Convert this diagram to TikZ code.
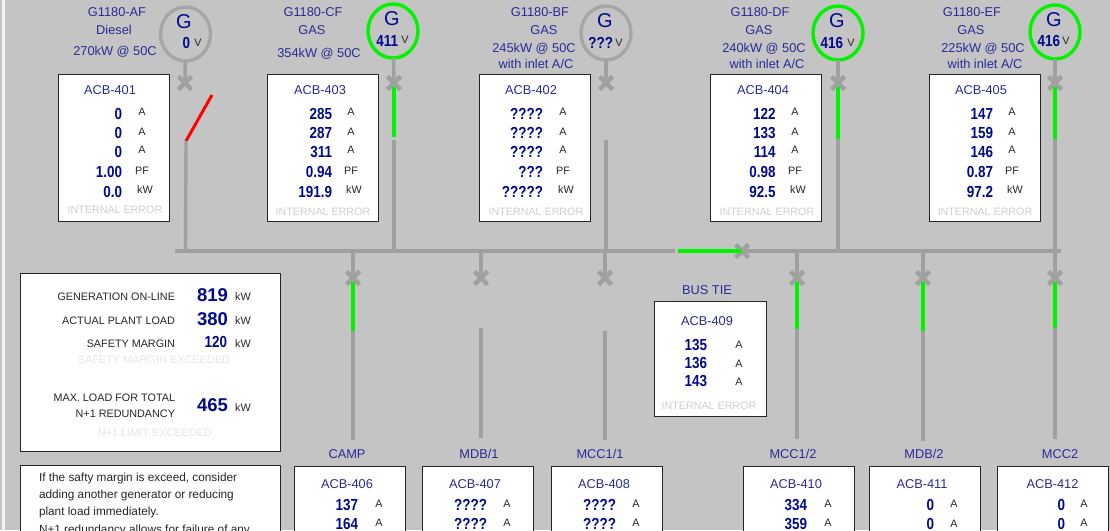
\documentclass[tikz,border=0pt]{standalone}
\usepackage{fontspec}
\setmainfont{Liberation Sans}
\newfontfamily\valfont[FakeStretch=0.84]{Liberation Sans Bold}
\usetikzlibrary{shapes.misc, shapes.geometric}
\definecolor{panelgray}{HTML}{C4C4C4}
\definecolor{linegray}{HTML}{A0A0A0}
\definecolor{ringgray}{HTML}{A6A6A6}
\definecolor{livegreen}{HTML}{00F400}
\definecolor{titleblue}{HTML}{2A2A96}
\definecolor{valblue}{HTML}{000A8C}
\definecolor{errgray}{HTML}{CFCFCF}
\definecolor{dimgray}{HTML}{E6E6E6}
\tikzset{
    every node/.style={inner sep=0pt, outer sep=0pt},
    gen/.style={ellipse, draw=ringgray, line width=3.4pt, minimum width=50, minimum height=54},
    genon/.style={gen, draw=livegreen},
    breaker/.style={cross out, draw=linegray, line width=4.4pt, minimum size=13},
    box/.style={rectangle, draw=black!85, fill=white, line width=0.9pt},
    acb/.style={box, minimum width=111, minimum height=147},
    feed/.style={box, minimum width=111, minimum height=134},
    title/.style={text=titleblue, font=\fontsize{12.8}{14}\selectfont},
    val/.style={anchor=east, text=valblue, font=\valfont\fontsize{16}{18}\selectfont},
    big/.style={anchor=east, text=valblue, font=\bfseries\fontsize{18.5}{22}\selectfont},
    unit/.style={text=black!85, font=\fontsize{10.8}{12}\selectfont},
    err/.style={text=errgray, font=\fontsize{10.7}{12}\selectfont},
    dim/.style={text=dimgray, font=\fontsize{10.9}{12}\selectfont},
    note/.style={anchor=west, text=black!85, font=\fontsize{11.8}{13}\selectfont},
    loadlabel/.style={anchor=east, text=black!85, font=\fontsize{10.8}{12}\selectfont},
    gletter/.style={text=valblue, font=\fontsize{20}{23}\selectfont},
    volt/.style={anchor=east, text=valblue, font=\valfont\fontsize{16}{18}\selectfont},
    wire/.style={draw=linegray, line width=3.4pt},
    live/.style={draw=livegreen, line width=3.8pt},
    tripped/.style={draw=red, line width=3pt}
}
\begin{document}
\begin{tikzpicture}[x=1pt, y=-1pt]
        \useasboundingbox (0,0) rectangle (1110,530);
        \clip (0,0) rectangle (1110,530);
        \fill[panelgray] (0,0) rectangle (1110,530);
        \fill[white!80!panelgray] (2,0) rectangle (5,530);

        % Generators
        \node[gen] (g401) at (185.5,34) {};
        \node[genon] (g403) at (393,31) {};
        \node[gen] (g402) at (606,33) {};
        \node[genon] (g404) at (838,33) {};
        \node[genon] (g405) at (1055,32) {};
        \node[gletter] (l401) at (184,22) {G};
        \node[gletter] (l403) at (392,19) {G};
        \node[gletter] (l402) at (605,21) {G};
        \node[gletter] (l404) at (837,21) {G};
        \node[gletter] (l405) at (1054,20) {G};
        \node[volt] (n401) at (190,43) {0};
        \node[volt] (n403) at (398,41) {411};
        \node[volt] (n402) at (613,43) {???};
        \node[volt] (n404) at (843,43) {416};
        \node[volt] (n405) at (1060,41) {416};
        \node[unit] (m401) at (198,43) {V};
        \node[unit] (m403) at (405,40) {V};
        \node[unit] (m402) at (619,43) {V};
        \node[unit] (m404) at (851,43) {V};
        \node[unit] (m405) at (1066,41) {V};

        % Generator headings
        \node[title] (h401a) at (117,12) {G1180-AF};
        \node[title] (h401b) at (114,30) {Diesel};
        \node[title] (h401c) at (115,52) {270kW @ 50C};
        \node[title] (h403a) at (313,12) {G1180-CF};
        \node[title] (h403b) at (312,30) {GAS};
        \node[title] (h403c) at (319,54) {354kW @ 50C};
        \node[title] (h402a) at (540,12) {G1180-BF};
        \node[title] (h402b) at (544,30) {GAS};
        \node[title] (h402c) at (534,49) {245kW @ 50C};
        \node[title] (h402d) at (536,64) {with inlet A/C};
        \node[title] (h404a) at (760,12) {G1180-DF};
        \node[title] (h404b) at (759,30) {GAS};
        \node[title] (h404c) at (764,49) {240kW @ 50C};
        \node[title] (h404d) at (767,64) {with inlet A/C};
        \node[title] (h405a) at (972,12) {G1180-EF};
        \node[title] (h405b) at (971,30) {GAS};
        \node[title] (h405c) at (983,49) {225kW @ 50C};
        \node[title] (h405d) at (985,64) {with inlet A/C};

        % Generator breaker boxes
        \node[acb] (b401) at (113.5,147.5) {};
        \node[acb] (b403) at (323,147.5) {};
        \node[acb] (b402) at (534.5,147.5) {};
        \node[acb] (b404) at (766,147.5) {};
        \node[acb] (b405) at (984.5,147.5) {};
        \node[title] (t401) at (110,90) {ACB-401};
        \node[title] (t403) at (320,90) {ACB-403};
        \node[title] (t402) at (531,90) {ACB-402};
        \node[title] (t404) at (763,90) {ACB-404};
        \node[title] (t405) at (981,90) {ACB-405};

        \node[val] (v401a) at (122,114) {0};
        \node[val] (v401b) at (122,133) {0};
        \node[val] (v401c) at (122,152) {0};
        \node[val] (v401d) at (122,172) {1.00};
        \node[val] (v401e) at (122,192) {0.0};
        \node[unit] (u401a) at (142,112) {A};
        \node[unit] (u401b) at (142,132) {A};
        \node[unit] (u401c) at (142,150) {A};
        \node[unit] (u401d) at (142,171) {PF};
        \node[unit] (u401e) at (145,190) {kW};
        \node[err] (e401) at (115,210) {INTERNAL ERROR};

        \node[val] (v403a) at (332,114) {285};
        \node[val] (v403b) at (332,133) {287};
        \node[val] (v403c) at (332,152) {311};
        \node[val] (v403d) at (332,172) {0.94};
        \node[val] (v403e) at (332,192) {191.9};
        \node[unit] (u403a) at (351,112) {A};
        \node[unit] (u403b) at (351,132) {A};
        \node[unit] (u403c) at (351,150) {A};
        \node[unit] (u403d) at (351,171) {PF};
        \node[unit] (u403e) at (354,190) {kW};
        \node[err] (e403) at (323,212) {INTERNAL ERROR};

        \node[val] (v402a) at (543,114) {????};
        \node[val] (v402b) at (543,133) {????};
        \node[val] (v402c) at (543,152) {????};
        \node[val] (v402d) at (543,172) {???};
        \node[val] (v402e) at (543,192) {?????};
        \node[unit] (u402a) at (563,112) {A};
        \node[unit] (u402b) at (563,132) {A};
        \node[unit] (u402c) at (563,150) {A};
        \node[unit] (u402d) at (563,171) {PF};
        \node[unit] (u402e) at (566,190) {kW};
        \node[err] (e402) at (536,212) {INTERNAL ERROR};

        \node[val] (v404a) at (775.5,114) {122};
        \node[val] (v404b) at (775.5,133) {133};
        \node[val] (v404c) at (775.5,152) {114};
        \node[val] (v404d) at (775.5,172) {0.98};
        \node[val] (v404e) at (775.5,192) {92.5};
        \node[unit] (u404a) at (795,112) {A};
        \node[unit] (u404b) at (795,132) {A};
        \node[unit] (u404c) at (795,150) {A};
        \node[unit] (u404d) at (795,171) {PF};
        \node[unit] (u404e) at (798,190) {kW};
        \node[err] (e404) at (767,212) {INTERNAL ERROR};

        \node[val] (v405a) at (993,114) {147};
        \node[val] (v405b) at (993,133) {159};
        \node[val] (v405c) at (993,152) {146};
        \node[val] (v405d) at (993,172) {0.87};
        \node[val] (v405e) at (993,192) {97.2};
        \node[unit] (u405a) at (1012,112) {A};
        \node[unit] (u405b) at (1012,132) {A};
        \node[unit] (u405c) at (1012,150) {A};
        \node[unit] (u405d) at (1012,171) {PF};
        \node[unit] (u405e) at (1015,190) {kW};
        \node[err] (e405) at (985,212) {INTERNAL ERROR};

        % Plant load panel
        \node[box, minimum width=260, minimum height=178] (load) at (150,362) {};
        \node[loadlabel] (c1) at (175,297) {GENERATION ON-LINE};
        \node[loadlabel] (c2) at (175,321) {ACTUAL PLANT LOAD};
        \node[loadlabel] (c3) at (175,344) {SAFETY MARGIN};
        \node[dim] (c4) at (154,360) {SAFETY MARGIN EXCEEDED};
        \node[loadlabel] (c5) at (175,398) {MAX. LOAD FOR TOTAL};
        \node[loadlabel] (c6) at (175,414) {N+1 REDUNDANCY};
        \node[dim] (c7) at (155,433) {N+1 LIMIT EXCEEDED};
        \node[big] (w1) at (228,295) {819};
        \node[big] (w2) at (228,319) {380};
        \node[val] (w3) at (227,342) {120};
        \node[big] (w4) at (228,405) {465};
        \node[unit] (k1) at (243,297) {kW};
        \node[unit] (k2) at (243,321) {kW};
        \node[unit] (k3) at (243,344) {kW};
        \node[unit] (k4) at (243,408) {kW};

        % Advice panel
        \node[box, minimum width=260, minimum height=90] (advice) at (150,510) {};
        \node[note] (a1) at (39,478) {If the safty margin is exceed, consider};
        \node[note] (a2) at (39,495) {adding another generator or reducing};
        \node[note] (a3) at (39,512) {plant load immediately.};
        \node[note] (a4) at (39,530) {N+1 redundancy allows for failure of any};

        % Bus tie
        \node[title] (tie) at (707,290) {BUS TIE};
        \node[box, minimum width=112, minimum height=115] (b409) at (710,358.5) {};
        \node[title] (t409) at (707,321) {ACB-409};
        \node[val] (v409a) at (707,345) {135};
        \node[val] (v409b) at (707,363) {136};
        \node[val] (v409c) at (707,381) {143};
        \node[unit] (u409a) at (739,345) {A};
        \node[unit] (u409b) at (739,364) {A};
        \node[unit] (u409c) at (739,382) {A};
        \node[err] (e409) at (709,406) {INTERNAL ERROR};

        % Feeder boxes
        \node[title] (f406) at (347,454) {CAMP};
        \node[title] (f407) at (479,454) {MDB/1};
        \node[title] (f408) at (600,454) {MCC1/1};
        \node[title] (f410) at (793,454) {MCC1/2};
        \node[title] (f411) at (924,454) {MDB/2};
        \node[title] (f412) at (1060,454) {MCC2};
        \node[feed] (b406) at (350,533) {};
        \node[feed] (b407) at (478,533) {};
        \node[feed] (b408) at (607,533) {};
        \node[feed] (b410) at (799,533) {};
        \node[feed] (b411) at (925,533) {};
        \node[feed] (b412) at (1053,533) {};
        \node[title] (t406) at (347,484) {ACB-406};
        \node[title] (t407) at (475,484) {ACB-407};
        \node[title] (t408) at (604,484) {ACB-408};
        \node[title] (t410) at (796,484) {ACB-410};
        \node[title] (t411) at (922,484) {ACB-411};
        \node[title] (t412) at (1052.5,484) {ACB-412};
        \node[val] (v406a) at (358,505) {137};
        \node[val] (v406b) at (358,524) {164};
        \node[val] (v407a) at (487,505) {????};
        \node[val] (v407b) at (487,524) {????};
        \node[val] (v408a) at (616,505) {????};
        \node[val] (v408b) at (616,524) {????};
        \node[val] (v410a) at (807,505) {334};
        \node[val] (v410b) at (807,524) {359};
        \node[val] (v411a) at (934,505) {0};
        \node[val] (v411b) at (934,524) {0};
        \node[val] (v412a) at (1065,505) {0};
        \node[val] (v412b) at (1065,524) {0};
        \node[unit] (u406a) at (379,504) {A};
        \node[unit] (u406b) at (379,523) {A};
        \node[unit] (u407a) at (507,504) {A};
        \node[unit] (u407b) at (507,523) {A};
        \node[unit] (u408a) at (636,504) {A};
        \node[unit] (u408b) at (636,523) {A};
        \node[unit] (u410a) at (828,504) {A};
        \node[unit] (u410b) at (828,523) {A};
        \node[unit] (u411a) at (954,504) {A};
        \node[unit] (u411b) at (954,524) {A};
        \node[unit] (u412a) at (1084,504) {A};
        \node[unit] (u412b) at (1084,523) {A};

        % Breakers
        \node[breaker] (x401) at (185,83) {};
        \node[breaker] (x403) at (394,83) {};
        \node[breaker] (x402) at (606,83) {};
        \node[breaker] (x404) at (838,83) {};
        \node[breaker] (x405) at (1055,83) {};
        \node[breaker] (x409) at (742,251) {};
        \node[breaker] (x406) at (353,278) {};
        \node[breaker] (x407) at (481,278) {};
        \node[breaker] (x408) at (605,278) {};
        \node[breaker] (x410) at (797,278) {};
        \node[breaker] (x411) at (923,278) {};
        \node[breaker] (x412) at (1055,278) {};

        % Line ends
        \coordinate (busl) at (175,251);
        \coordinate (bust) at (675,251);
        \coordinate (tiel) at (678,251);
        \coordinate (busr) at (1061,251);
        \coordinate (s401a) at (212,95);
        \coordinate (s401b) at (186,141);
        \coordinate (j401) at (185.5,251);
        \coordinate (s403a) at (394,137);
        \coordinate (s403b) at (394,140);
        \coordinate (j403) at (394,251);
        \coordinate (s402) at (606,140);
        \coordinate (j402) at (606,251);
        \coordinate (s404) at (838,139);
        \coordinate (j404) at (838,251);
        \coordinate (s405) at (1055,139);
        \coordinate (j405) at (1055,251);
        \coordinate (d406a) at (353,251);
        \coordinate (d407a) at (481,251);
        \coordinate (d408a) at (605,251);
        \coordinate (d410a) at (797,251);
        \coordinate (d411a) at (923,251);
        \coordinate (d412a) at (1055,251);
        \coordinate (d406b) at (353,331);
        \coordinate (d406c) at (353,440);
        \coordinate (d407b) at (481,328);
        \coordinate (d407c) at (481,438);
        \coordinate (d408b) at (605,331);
        \coordinate (d408c) at (605,440);
        \coordinate (d410b) at (797,329);
        \coordinate (d410c) at (797,439);
        \coordinate (d411b) at (923,331);
        \coordinate (d411c) at (923,441);
        \coordinate (d412b) at (1055,328);
        \coordinate (d412c) at (1055,439);

        % Lines
        \draw[wire] (busl) -- (bust);
        \draw[wire] (x409.center) -- (busr);
        \draw[live] (tiel) -- (x409.center);
        \draw[wire] (g401) -- (x401.center);
        \draw[wire] (g403) -- (x403.center);
        \draw[wire] (g402) -- (x402.center);
        \draw[wire] (g404) -- (x404.center);
        \draw[wire] (g405) -- (x405.center);
        \draw[tripped] (s401a) -- (s401b);
        \draw[wire] (s401b) -- (j401);
        \draw[live] (x403.center) ++(0,4) -- (s403a);
        \draw[wire] (s403b) -- (j403);
        \draw[wire] (s402) -- (j402);
        \draw[live] (x404.center) ++(0,4) -- (s404);
        \draw[wire] (s404) -- (j404);
        \draw[live] (x405.center) ++(0,4) -- (s405);
        \draw[wire] (s405) -- (j405);
        \draw[wire] (d406a) -- (x406.center);
        \draw[wire] (d407a) -- (x407.center);
        \draw[wire] (d408a) -- (x408.center);
        \draw[wire] (d410a) -- (x410.center);
        \draw[wire] (d411a) -- (x411.center);
        \draw[wire] (d412a) -- (x412.center);
        \draw[live] (x406.center) ++(0,4) -- (d406b);
        \draw[wire] (d406b) -- (d406c);
        \draw[wire] (d407b) -- (d407c);
        \draw[wire] (d408b) -- (d408c);
        \draw[live] (x410.center) ++(0,4) -- (d410b);
        \draw[wire] (d410b) -- (d410c);
        \draw[live] (x411.center) ++(0,4) -- (d411b);
        \draw[wire] (d411b) -- (d411c);
        \draw[live] (x412.center) ++(0,4) -- (d412b);
        \draw[wire] (d412b) -- (d412c);
    \end{tikzpicture}
\end{document}
